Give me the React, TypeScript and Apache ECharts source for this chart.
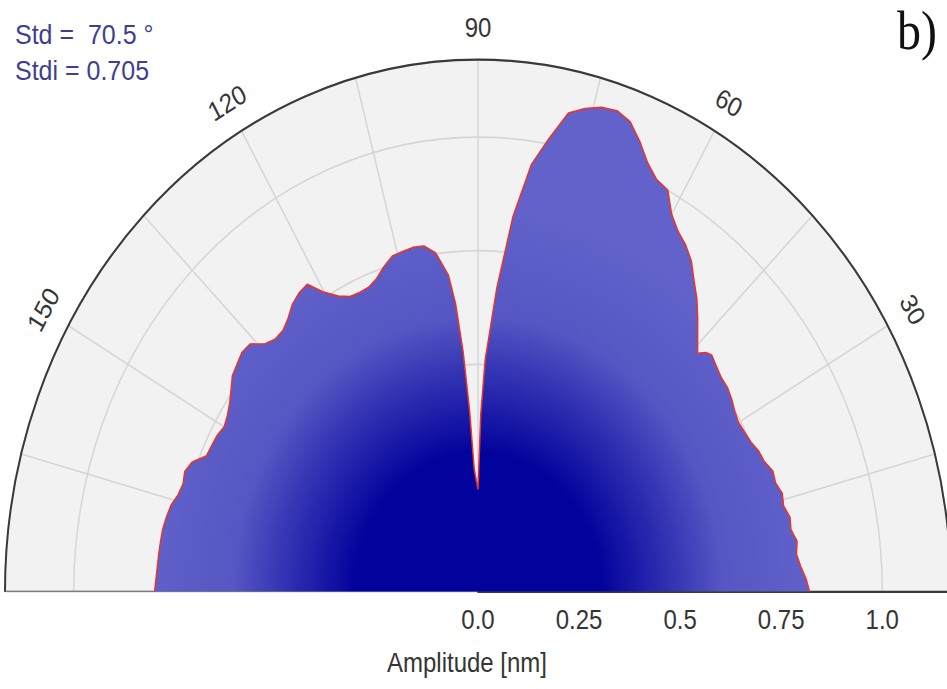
import React, { useEffect, useRef } from 'react';
import * as echarts from 'echarts';

// ---- data ----
const ANGLES = [
  0, 2, 4, 6, 8, 10, 12, 14, 16, 18, 20, 22, 24, 26, 28, 30, 32, 34, 36, 38, 40, 42, 43, 44, 46, 48,
  50, 52, 54, 56, 58, 60, 62, 64, 66, 68, 70, 72, 74, 76, 78, 80, 82, 84, 86, 88, 89, 90, 91, 92, 93,
  94, 95, 96, 98, 100, 102, 104, 106, 108, 110, 112, 114, 116, 118, 120, 122, 124, 126, 128, 130,
  132, 134, 136, 138, 140, 142, 144, 146, 148, 150, 152, 154, 156, 158, 160, 162, 164, 166, 168,
  170, 172, 174, 176, 178, 180,
];
const AMPLITUDE = [
  0.82, 0.812, 0.8, 0.792, 0.797, 0.786, 0.789, 0.779, 0.783, 0.774, 0.776, 0.764, 0.76, 0.751, 0.747,
  0.744, 0.749, 0.757, 0.763, 0.764, 0.77, 0.778, 0.771, 0.755, 0.782, 0.812,
  0.842, 0.868, 0.898, 0.919, 0.934, 0.958, 1.0, 1.008, 1.032, 1.068, 1.1, 1.112, 1.108, 1.095,
  1.076, 1.012, 0.948, 0.83, 0.67, 0.51, 0.39, 0.225, 0.245, 0.27, 0.4,
  0.53, 0.635, 0.7, 0.752, 0.772, 0.774, 0.771, 0.768, 0.752, 0.733, 0.722, 0.72, 0.722, 0.736, 0.76,
  0.797, 0.792, 0.781, 0.763, 0.75,
  0.748, 0.758, 0.784, 0.786, 0.778, 0.771, 0.755, 0.741, 0.731, 0.725, 0.731, 0.733, 0.735, 0.762,
  0.772, 0.767, 0.772, 0.783, 0.788,
  0.792, 0.793, 0.794, 0.795, 0.797, 0.8,
];
const RADIUS_MAX = 1.17;
const RADIUS_STEP = 0.25;
const RADIUS_LABELS: Record<string, string> = { '0': '0.0', '0.25': '0.25', '0.5': '0.5', '0.75': '0.75', '1': '1.0' };
const ANGLE_STEP = 15;
const ANGLE_LABEL_VALUES = [30, 60, 90, 120, 150];
const STATS_LINES = ['Std =  70.5 °', 'Stdi = 0.705'];
const AXIS_NAME = 'Amplitude [nm]';
const PANEL_LABEL = 'b)';

// ---- layout ----
const W = 947;
const SY = 1.125; // the reference is stretched vertically
const H = 612;
const CX = 478;
const CY = 526;
const R = 473;
const LABEL_R = R + 29;
const SANS = '"Liberation Sans", Arial, sans-serif';

export default function App() {
  const ref = useRef<HTMLDivElement>(null);

  useEffect(() => {
    document.body.style.margin = '0';
    const chart = echarts.init(ref.current as HTMLDivElement, null, { renderer: 'svg', width: W, height: H });

    const angleLabels = ANGLE_LABEL_VALUES.map((v) => {
      const t = (v * Math.PI) / 180;
      return {
        type: 'text',
        x: CX + LABEL_R * Math.cos(t),
        y: CY - LABEL_R * Math.sin(t),
        rotation: ((v - 90) * Math.PI) / 180,
        style: {
          text: String(v),
          font: `24px ${SANS}`,
          fill: '#353535',
          align: 'center',
          verticalAlign: 'middle',
        },
        z: 10,
      };
    });

    const option: any = {
      animation: false,
      backgroundColor: '#ffffff',
      polar: { center: [CX, CY], radius: R },
      angleAxis: {
        type: 'value',
        min: 0,
        max: 180,
        interval: ANGLE_STEP,
        startAngle: 0,
        endAngle: 180,
        clockwise: false,
        axisLine: { show: true, lineStyle: { color: '#3a3a3a', width: 2 } },
        axisTick: { show: false },
        axisLabel: { show: false },
        splitLine: { show: true, lineStyle: { color: '#d6d6d6', width: 1.5 } },
        splitArea: { show: false },
      },
      radiusAxis: {
        type: 'value',
        min: 0,
        max: RADIUS_MAX,
        interval: RADIUS_STEP,
        axisLine: { show: true, lineStyle: { color: '#3a3a3a', width: 2 } },
        axisTick: { show: false },
        axisLabel: {
          show: true,
          margin: -37,
          fontSize: 24,
          fontFamily: SANS,
          color: '#353535',
          formatter: (v: number) => {
            const key = String(Math.round(v * 100) / 100);
            return RADIUS_LABELS[key] ?? '';
          },
        },
        splitLine: { show: true, lineStyle: { color: '#d6d6d6', width: 1.5 } },
        splitArea: { show: false },
      },
      series: [
        {
          name: 'baseline',
          type: 'line',
          coordinateSystem: 'polar',
          data: [
            [0, 180],
            [RADIUS_MAX, 180],
          ],
          symbol: 'none',
          silent: true,
          lineStyle: { color: '#3a3a3a', width: 2 },
          z: 1,
        },
        {
          name: 'amplitude',
          type: 'line',
          coordinateSystem: 'polar',
          data: ANGLES.map((a, i) => [AMPLITUDE[i], a]),
          symbol: 'none',
          smooth: false,
          lineStyle: { color: '#e8342c', width: 1.5 },
          areaStyle: {
            opacity: 1,
            color: new echarts.graphic.RadialGradient(
              CX,
              CY,
              340,
              [
                { offset: 0, color: '#02029c' },
                { offset: 0.36, color: '#02029c' },
                { offset: 0.56, color: '#3030b2' },
                { offset: 0.72, color: '#5656c4' },
                { offset: 1, color: '#6262ca' },
              ],
              true
            ),
          },
          z: 3,
        },
      ],
      graphic: [
        {
          type: 'sector',
          shape: { cx: CX, cy: CY, r0: 0, r: R, startAngle: Math.PI, endAngle: 2 * Math.PI },
          style: { fill: '#f2f2f2' },
          silent: true,
          z: -100,
        },
        ...angleLabels,
        {
          type: 'text',
          x: 15,
          y: 31,
          style: { text: STATS_LINES[0], font: `25px ${SANS}`, fill: '#3f3f8f', align: 'left', verticalAlign: 'middle' },
        },
        {
          type: 'text',
          x: 15,
          y: 63,
          style: { text: STATS_LINES[1], font: `25px ${SANS}`, fill: '#3f3f8f', align: 'left', verticalAlign: 'middle' },
        },
        {
          type: 'text',
          x: 897,
          y: 27,
          style: {
            text: PANEL_LABEL,
            font: `48px "Liberation Serif", "Times New Roman", serif`,
            fill: '#111111',
            align: 'left',
            verticalAlign: 'middle',
          },
        },
        {
          type: 'text',
          x: 467,
          y: 589,
          style: { text: AXIS_NAME, font: `24px ${SANS}`, fill: '#353535', align: 'center', verticalAlign: 'middle' },
        },
      ],
    };

    chart.setOption(option);
    return () => chart.dispose();
  }, []);

  return (
    <div
      style={{
        position: 'absolute',
        left: 0,
        top: 0,
        width: W,
        height: Math.round(H * SY),
        overflow: 'hidden',
        background: '#ffffff',
      }}
    >
      <div
        ref={ref}
        style={{ width: W, height: H, transform: `scaleY(${SY})`, transformOrigin: '0 0' }}
      />
    </div>
  );
}
